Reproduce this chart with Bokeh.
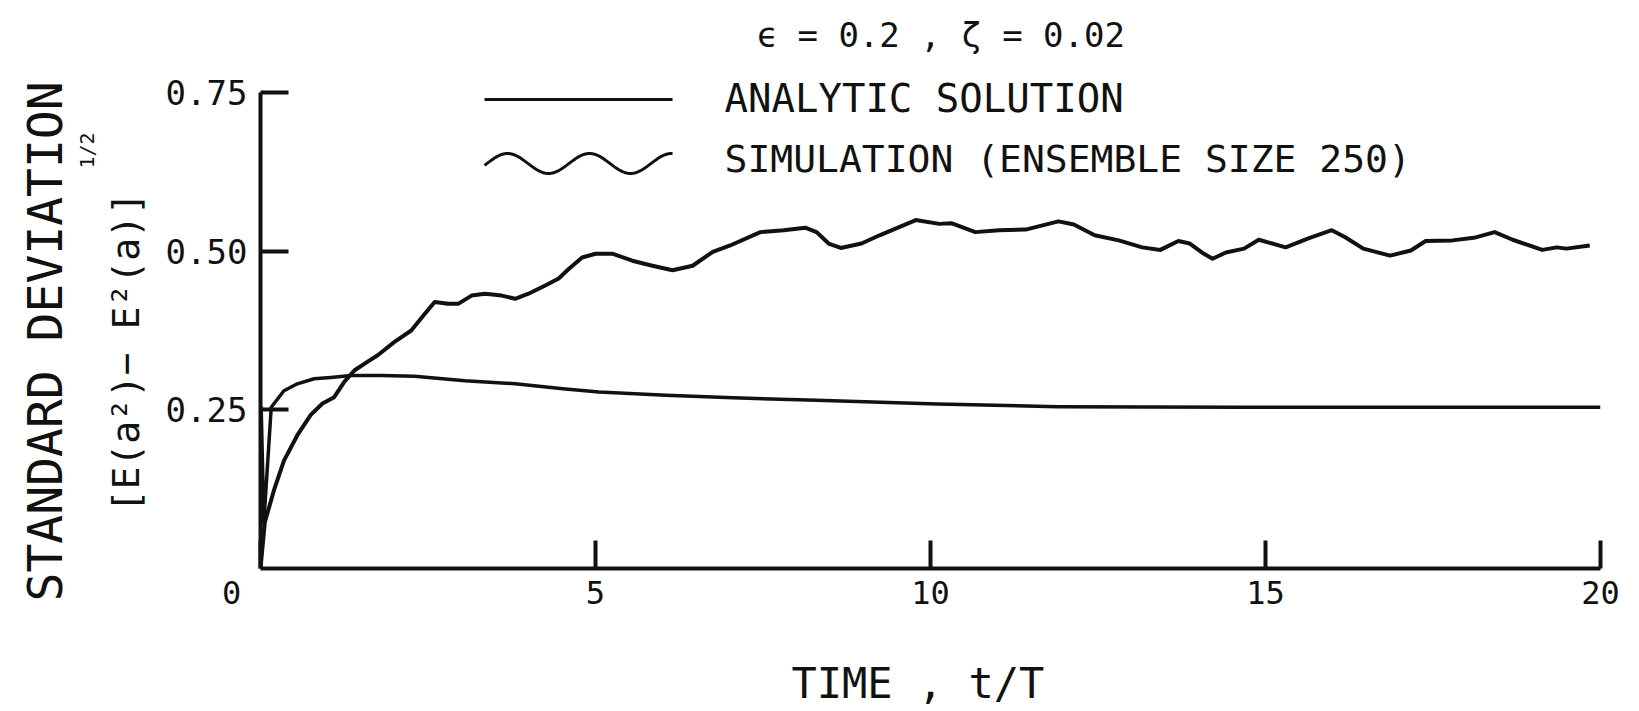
import math
from bokeh.plotting import figure
from bokeh.models import Range1d, Label, FixedTicker, Title, LinearAxis
from bokeh.embed import file_html
from bokeh.resources import INLINE

# ---------------- data ----------------
analytic_t = [0, 0.01, 0.05, 0.16, 0.35, 0.55, 0.8, 1.05, 1.35, 1.8, 2.3, 3.05, 3.8,
              4.55, 5.05, 6.05, 7.05, 8.3, 10.1, 11.9, 14.6, 17.0, 20.0]
analytic_sd = [0, 0.254, 0.073, 0.254, 0.280, 0.291, 0.299, 0.301, 0.304, 0.304, 0.303,
               0.296, 0.291, 0.283, 0.278, 0.273, 0.269, 0.265, 0.259, 0.255, 0.254,
               0.254, 0.254]

sim_t = [0, 0.065, 0.2, 0.35, 0.55, 0.75, 0.925, 1.1, 1.25, 1.4, 1.6, 1.75, 2.0, 2.25,
         2.45, 2.6, 2.8, 2.95, 3.15, 3.35, 3.6, 3.8, 4.0, 4.25, 4.45, 4.6, 4.8, 5.0,
         5.25, 5.55, 5.85, 6.15, 6.45, 6.75, 7.01, 7.46, 7.81, 8.13, 8.30, 8.48, 8.66,
         8.97, 9.24, 9.78, 10.13, 10.31, 10.67, 11.02, 11.42, 11.91, 12.14, 12.45,
         12.81, 13.16, 13.43, 13.70, 13.87, 14.05, 14.21, 14.41, 14.68, 14.90, 15.30,
         15.66, 15.99, 16.19, 16.46, 16.86, 17.17, 17.39, 17.79, 18.11, 18.42, 18.69,
         19.13, 19.35, 19.49, 19.84]
sim_sd = [0, 0.073, 0.123, 0.170, 0.210, 0.242, 0.260, 0.270, 0.294, 0.312, 0.326,
          0.336, 0.357, 0.375, 0.401, 0.420, 0.417, 0.417, 0.430, 0.433, 0.430, 0.425,
          0.433, 0.446, 0.457, 0.472, 0.490, 0.496, 0.496, 0.485, 0.477, 0.470, 0.477,
          0.499, 0.509, 0.530, 0.533, 0.537, 0.530, 0.512, 0.505, 0.512, 0.525, 0.549,
          0.543, 0.544, 0.530, 0.533, 0.534, 0.547, 0.542, 0.525, 0.517, 0.506, 0.502,
          0.516, 0.512, 0.498, 0.488, 0.498, 0.504, 0.518, 0.506, 0.521, 0.533, 0.522,
          0.504, 0.493, 0.501, 0.516, 0.517, 0.521, 0.530, 0.518, 0.502, 0.506, 0.504,
          0.509]

x_ticks = [0, 5, 10, 15, 20]
x_tick_labels = ["0\u00a0\u00a0\u00a0", "5", "10", "15", "20"]
y_ticks = [0.25, 0.5, 0.75]
y_tick_labels = ["0.25", "0.50", "0.75"]

title_text = "\u00a0\u03f5 = 0.2 , \u03b6 = 0.02"
legend_labels = ["ANALYTIC SOLUTION", "SIMULATION (ENSEMBLE SIZE 250)"]
x_title = "TIME , t/T\u00a0"
y_title_1 = "STANDARD DEVIATION"
y_title_2 = "[E(a\u00b2)\u2212 E\u00b2(a)]"
y_title_exp = "1/2"

# ---------------- layout helpers (page pixels -> data) ----------------
FONT = "DejaVu Sans Mono"
INK = "#111111"
FL, FR, FT, FB = 260, 1600, 92, 568     # page pixels of the axes (0..20, 0..0.75)
FRAME_TOP = 72                           # frame reaches a bit above 0.75
X_MAX, Y_MAX = 20.0, 0.75
Y_TOP = Y_MAX * (FB - FRAME_TOP) / (FB - FT)


def tx(px):
    return (px - FL) / (FR - FL) * X_MAX


def ty(py):
    return (FB - py) / (FB - FT) * Y_MAX


p = figure(frame_width=FR - FL, frame_height=FB - FRAME_TOP,
           min_border_left=FL, min_border_right=28,
           min_border_top=FRAME_TOP, min_border_bottom=140,
           x_range=Range1d(0, X_MAX), y_range=Range1d(0, Y_TOP),
           output_backend="svg", toolbar_location=None,
           background_fill_color="white", border_fill_color="white")
p.outline_line_color = None
p.grid.visible = False
p.title.visible = False

for ax in (p.xaxis, p.yaxis):
    ax.axis_line_width = 4
    ax.axis_line_color = INK
    ax.major_tick_line_width = 4
    ax.major_tick_line_color = INK
    ax.major_tick_in = 28
    ax.major_tick_out = 0
    ax.minor_tick_line_color = None
    ax.major_label_text_font = FONT
    ax.major_label_text_color = INK
    ax.axis_label_text_font = FONT
    ax.axis_label_text_font_style = "normal"
    ax.axis_label_text_color = INK

p.xaxis.ticker = FixedTicker(ticks=x_ticks)
p.xaxis.major_label_overrides = {t: s for t, s in zip(x_ticks, x_tick_labels)}
p.xaxis.major_label_text_font_size = "32px"
p.xaxis.major_label_standoff = 5
p.xaxis.axis_label = x_title
p.xaxis.axis_label_text_font_size = "42px"
p.xaxis.axis_label_standoff = 44

p.yaxis.bounds = (0, Y_MAX)
p.yaxis.ticker = FixedTicker(ticks=y_ticks)
p.yaxis.major_label_overrides = {t: s for t, s in zip(y_ticks, y_tick_labels)}
p.yaxis.major_label_text_font_size = "34px"
p.yaxis.major_label_standoff = 13

# title as the label of a bare axis above the frame
top_axis = LinearAxis(ticker=FixedTicker(ticks=[]), axis_line_color=None,
                      major_tick_line_color=None, minor_tick_line_color=None,
                      major_label_text_font_size="0px",
                      axis_label=title_text, axis_label_text_font=FONT,
                      axis_label_text_font_size="34px",
                      axis_label_text_font_style="normal",
                      axis_label_text_color=INK, axis_label_standoff=18)
p.add_layout(top_axis, "above")


def side_title(text, size, bottom_px, standoff):
    p.add_layout(Title(text=text, align="left", offset=FB - bottom_px, standoff=standoff,
                       text_font=FONT, text_font_size=size, text_font_style="normal",
                       text_color=INK), "left")


side_title(y_title_2, "38px", 512, 30)
side_title(y_title_exp, "20px", 168, -24)
side_title(y_title_1, "48px", 601, 24)

# curves
p.line(analytic_t, analytic_sd, line_width=3.5, line_color=INK, line_join="round")
p.line(sim_t, sim_sd, line_width=4, line_color=INK, line_join="round")

# legend swatches
p.line([tx(484), tx(672)], [ty(99), ty(99)], line_width=3, line_color=INK)
wave_px = [484 + i * 2 for i in range(95)]
wave_x = [tx(x) for x in wave_px]
wave_y = [ty(163 - 10 * math.cos(2 * math.pi * (x - 507) / 82)) for x in wave_px]
p.line(wave_x, wave_y, line_width=3, line_color=INK, line_join="round")


def add_label(text, px, py, size):
    p.add_layout(Label(x=tx(px), y=ty(py), text=text, text_font=FONT,
                       text_font_size=size, text_color=INK, text_align="left",
                       text_baseline="middle"))


add_label(legend_labels[0], 724, 98, "39px")
add_label(legend_labels[1], 724, 158, "38px")

open("out.html", "w").write(file_html(p, INLINE))
